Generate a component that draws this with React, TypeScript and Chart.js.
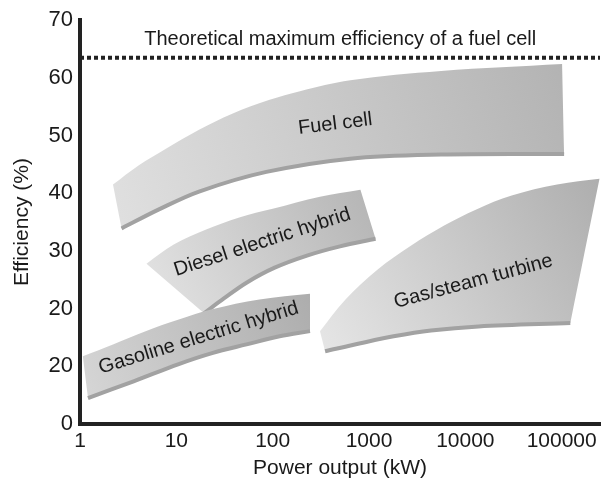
import React, { useEffect, useRef } from "react";
import { Chart, registerables } from "chart.js";

Chart.register(...registerables);

// Axis ticks
const xTickValues = [1, 10, 100, 1000, 10000, 100000];
const yTickValues = [0, 10, 20, 30, 40, 50, 60, 70];
const yTickLabels = ["0", "20", "20", "30", "40", "50", "60", "70"];

// Theoretical maximum efficiency (%)
const theoreticalMax = 63.5;

// Region outlines: [power kW, efficiency %], upper edge left→right, then lower edge right→left
const fuelCellUpper: [number, number][] = [
  [2.2, 41.5], [4.05, 44.8], [7.8, 47.7], [17.2, 51.0], [38, 53.8], [93, 56.2],
  [192, 57.7], [640, 59.6], [5600, 61.2], [101000, 62.4],
];
const fuelCellLower: [number, number][] = [
  [106000, 46.8], [5600, 46.7], [640, 46.0], [86, 43.7], [17.2, 40.3], [6.6, 37.2], [2.7, 33.9],
];

const dieselUpper: [number, number][] = [
  [4.9, 27.8], [9.4, 31.1], [20.4, 33.7], [45, 35.8], [100, 37.3], [310, 39.4], [815, 40.6],
];
const dieselLower: [number, number][] = [
  [1170, 32.1], [500, 30.8], [227, 29.2], [105, 27.1], [53.5, 24.5], [31.4, 21.8], [19.4, 19.2],
];

const gasolineUpper: [number, number][] = [
  [1.07, 11.75], [2.2, 13.8], [4.8, 16.1], [10.6, 18.1], [23.5, 19.9], [73, 21.6], [244, 22.6],
];
const gasolineLower: [number, number][] = [
  [244, 16.1], [118, 15.2], [53.5, 13.8], [23.5, 12.3], [10.6, 10.4], [3.6, 7.4], [1.21, 4.5],
];

const turbineUpper: [number, number][] = [
  [310, 16.1], [570, 21.6], [1230, 26.8], [2720, 30.9], [6030, 34.4], [13000, 37.2],
  [30300, 39.6], [89700, 41.5], [247000, 42.5],
];
const turbineLower: [number, number][] = [
  [123000, 17.5], [13700, 16.9], [4400, 16.2], [1800, 15.2], [815, 14.0], [350, 12.6],
];

// Text annotations
const labelTexts = [
  "Fuel cell",
  "Diesel electric hybrid",
  "Gasoline electric hybrid",
  "Gas/steam turbine",
  "Theoretical maximum efficiency of a fuel cell",
];
const labelX = [446, 78, 17, 12100, 503];
const labelY = [52.0, 31.5, 14.9, 24.7, 66.7];
const labelAngles = [-7, -18, -17, -15, 0];

const FONT = "'Liberation Sans', Arial, Helvetica, sans-serif";

const toPts = (arr: [number, number][]) => arr.map(([x, y]) => ({ x, y }));

function gradientFill(light: string, dark: string) {
  return (c: any) => {
    const chart = c.chart;
    const sx = chart.scales?.x;
    const sy = chart.scales?.y;
    if (!chart.chartArea || !sx || !sy) return dark;
    const ds = chart.data.datasets[c.datasetIndex];
    const xs = ds.data.map((p: any) => sx.getPixelForValue(p.x));
    const ys = ds.data.map((p: any) => sy.getPixelForValue(p.y));
    const x0 = Math.min(...xs), x1 = Math.max(...xs);
    const y0 = Math.min(...ys), y1 = Math.max(...ys);
    if (![x0, x1, y0, y1].every(Number.isFinite)) return dark;
    const g = chart.ctx.createLinearGradient(x0, y1, x1, y0);
    g.addColorStop(0, light);
    g.addColorStop(1, dark);
    return g;
  };
}

// Repeat the end points of each edge so the smoothed outline keeps sharp corners
const withCorners = (edge: [number, number][]) => [edge[0], ...edge, edge[edge.length - 1]];

function region(upper: [number, number][], lower: [number, number][], light: string, dark: string, order: number) {
  return [
    {
      data: toPts([...withCorners(upper), ...withCorners(lower)]),
      fill: "shape",
      backgroundColor: gradientFill(light, dark),
      borderColor: "rgba(0,0,0,0)",
      borderWidth: 0,
      pointRadius: 0,
      tension: 0.35,
      order,
    },
    {
      data: toPts(lower),
      fill: false,
      borderColor: "#a2a2a2",
      borderWidth: 4,
      pointRadius: 0,
      tension: 0.35,
      order: order - 0.5,
    },
  ];
}

const labelPlugin = {
  id: "regionLabels",
  afterDatasetsDraw(chart: any) {
    const { ctx, scales } = chart;
    ctx.save();
    ctx.fillStyle = "#1a1a1a";
    ctx.font = `20px ${FONT}`;
    ctx.textAlign = "center";
    ctx.textBaseline = "middle";
    labelTexts.forEach((t, i) => {
      const px = scales.x.getPixelForValue(labelX[i]);
      const py = scales.y.getPixelForValue(labelY[i]);
      ctx.save();
      ctx.translate(px, py);
      ctx.rotate((labelAngles[i] * Math.PI) / 180);
      ctx.fillText(t, 0, 0);
      ctx.restore();
    });
    ctx.restore();
  },
};

export default function App() {
  const ref = useRef<HTMLCanvasElement | null>(null);

  useEffect(() => {
    if (!ref.current) return;
    const datasets: any[] = [
      {
        data: toPts([[1, theoreticalMax], [250000, theoreticalMax]]),
        fill: false,
        borderColor: "#222",
        borderWidth: 4,
        borderDash: [4, 3],
        pointRadius: 0,
        order: 0,
      },
      ...region(turbineUpper, turbineLower, "#e6e6e6", "#aeaeae", 10),
      ...region(fuelCellUpper, fuelCellLower, "#e0e0e0", "#b3b3b3", 10),
      ...region(dieselUpper, dieselLower, "#e4e4e4", "#b4b4b4", 8),
      ...region(gasolineUpper, gasolineLower, "#d6d6d6", "#adadad", 6),
    ];

    const chart = new Chart(ref.current, {
      type: "line",
      data: { datasets },
      plugins: [labelPlugin],
      options: {
        animation: false,
        responsive: false,
        maintainAspectRatio: false,
        devicePixelRatio: 1,
        layout: { padding: { top: 18, right: 12, left: 0, bottom: 0 } },
        plugins: { legend: { display: false }, tooltip: { enabled: false } },
        scales: {
          x: {
            type: "logarithmic",
            min: 1,
            max: 250000,
            afterBuildTicks: (s: any) => {
              s.ticks = xTickValues.map((v) => ({ value: v }));
            },
            afterFit: (s: any) => {
              s.height = 66;
            },
            grid: { display: false, drawTicks: false },
            border: { display: true, color: "#222", width: 4 },
            ticks: {
              autoSkip: false,
              maxRotation: 0,
              padding: 5,
              color: "#1a1a1a",
              font: { family: FONT, size: 21 },
              callback: (v: any) => String(v),
            },
            title: {
              display: true,
              text: "Power output (kW)",
              color: "#1a1a1a",
              font: { family: FONT, size: 21 },
              padding: { top: 0, bottom: 9 },
            },
          },
          y: {
            type: "linear",
            min: 0,
            max: 70,
            afterBuildTicks: (s: any) => {
              s.ticks = yTickValues.map((v) => ({ value: v }));
            },
            afterFit: (s: any) => {
              s.width = 80;
            },
            grid: { display: false, drawTicks: false },
            border: { display: true, color: "#222", width: 4 },
            ticks: {
              padding: 7,
              color: "#1a1a1a",
              font: { family: FONT, size: 22 },
              callback: (_v: any, i: number) => yTickLabels[i],
            },
            title: {
              display: true,
              text: "Efficiency (%)",
              color: "#1a1a1a",
              font: { family: FONT, size: 21 },
              padding: { top: 10, bottom: 0 },
            },
          },
        },
      } as any,
    });
    return () => chart.destroy();
  }, []);

  return (
    <div style={{ position: "absolute", left: 0, top: 0, width: 612, height: 490, background: "#fff" }}>
      <canvas ref={ref} width={612} height={490} style={{ width: 612, height: 490, display: "block" }} />
    </div>
  );
}
